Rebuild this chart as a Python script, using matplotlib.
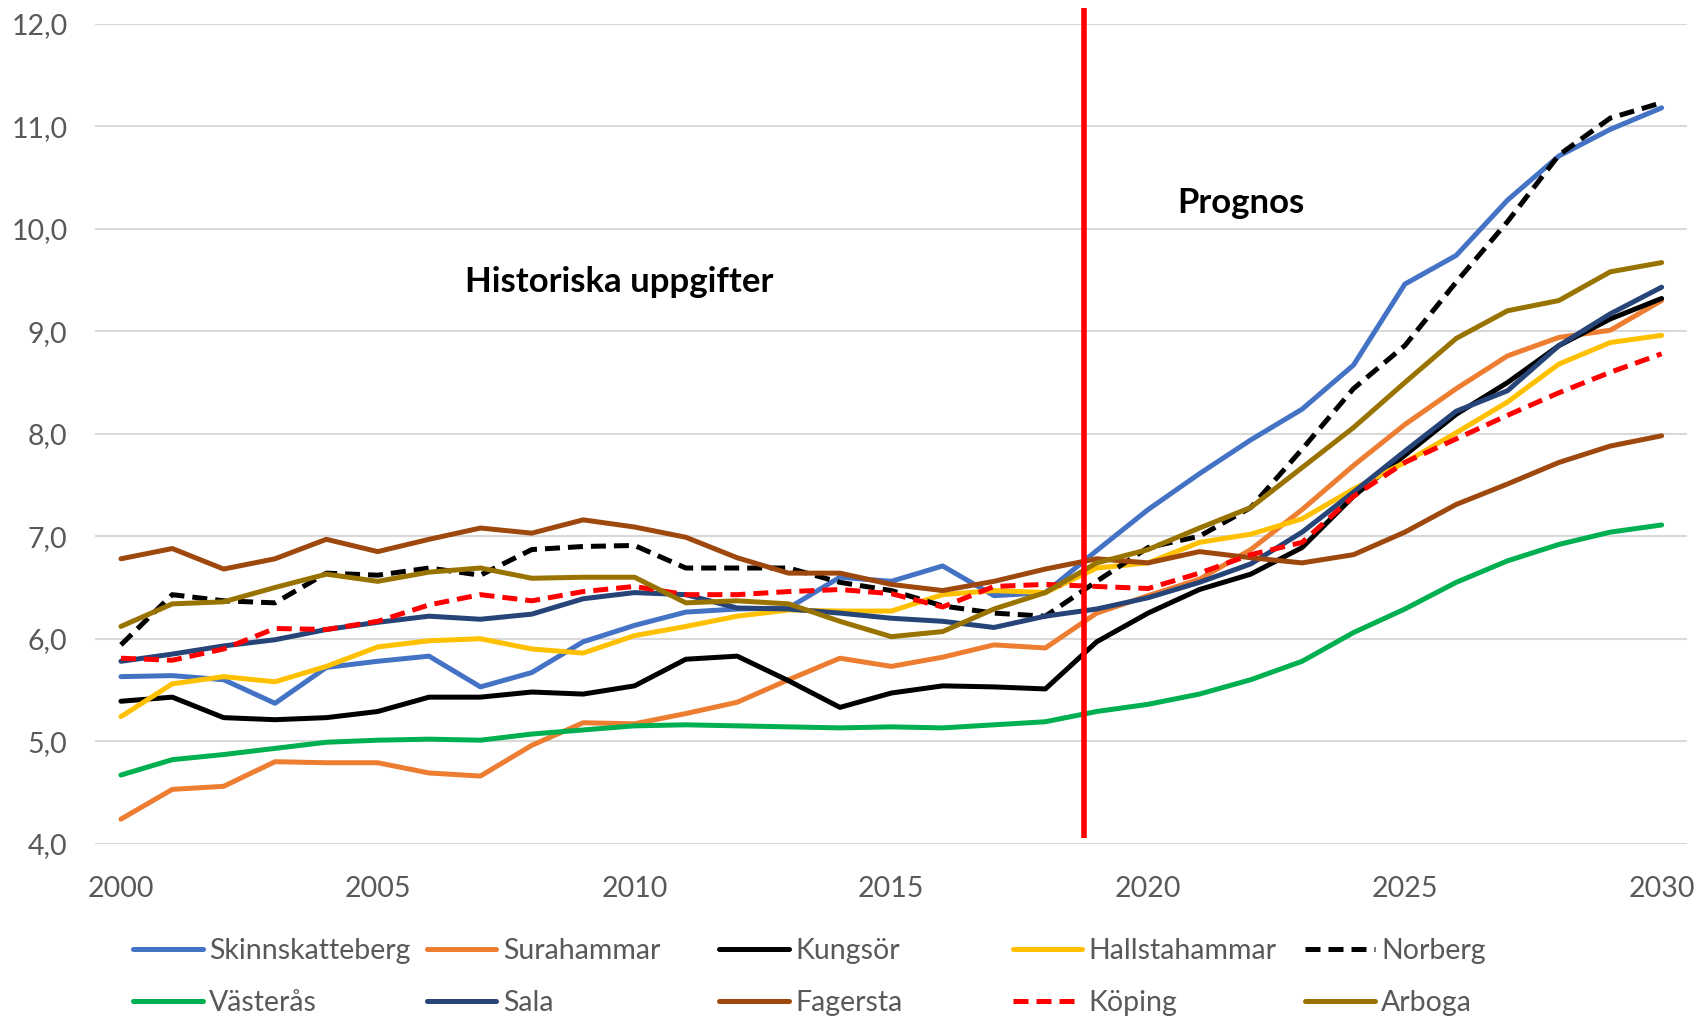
import matplotlib
matplotlib.use("Agg")
import matplotlib.pyplot as plt
from matplotlib.ticker import FixedLocator

plt.rcParams['font.family'] = ['Lato', 'DejaVu Sans']

years = list(range(2000, 2031))

skinnskatteberg = [5.63, 5.64, 5.60, 5.37, 5.72, 5.78, 5.83, 5.53, 5.67, 5.97, 6.13, 6.26, 6.29, 6.30, 6.60, 6.56, 6.71, 6.42, 6.45, 6.86,
                   7.26, 7.61, 7.94, 8.24, 8.67, 9.46, 9.74, 10.28, 10.71, 10.97, 11.18]
surahammar = [4.24, 4.53, 4.56, 4.80, 4.79, 4.79, 4.69, 4.66, 4.96, 5.18, 5.17, 5.27, 5.38, 5.60, 5.81, 5.73, 5.82, 5.94, 5.91, 6.25,
              6.42, 6.58, 6.87, 7.26, 7.69, 8.09, 8.44, 8.76, 8.94, 9.01, 9.30]
kungsor = [5.39, 5.43, 5.23, 5.21, 5.23, 5.29, 5.43, 5.43, 5.48, 5.46, 5.54, 5.80, 5.83, 5.59, 5.33, 5.47, 5.54, 5.53, 5.51, 5.97,
           6.25, 6.48, 6.63, 6.89, 7.39, 7.79, 8.19, 8.50, 8.86, 9.12, 9.32]
hallstahammar = [5.24, 5.56, 5.63, 5.58, 5.73, 5.92, 5.98, 6.00, 5.90, 5.86, 6.03, 6.12, 6.22, 6.28, 6.27, 6.27, 6.43, 6.47, 6.45, 6.69,
                 6.74, 6.94, 7.02, 7.17, 7.46, 7.72, 8.01, 8.31, 8.68, 8.89, 8.96]
norberg = [5.94, 6.43, 6.37, 6.35, 6.64, 6.62, 6.69, 6.62, 6.87, 6.90, 6.91, 6.69, 6.69, 6.69, 6.55, 6.47, 6.32, 6.25, 6.22, 6.56,
           6.89, 7.00, 7.28, 7.85, 8.44, 8.86, 9.48, 10.07, 10.72, 11.08, 11.23]
vasteras = [4.67, 4.82, 4.87, 4.93, 4.99, 5.01, 5.02, 5.01, 5.07, 5.11, 5.15, 5.16, 5.15, 5.14, 5.13, 5.14, 5.13, 5.16, 5.19, 5.29,
            5.36, 5.46, 5.60, 5.78, 6.06, 6.29, 6.55, 6.76, 6.92, 7.04, 7.11]
sala = [5.78, 5.85, 5.93, 5.99, 6.09, 6.16, 6.22, 6.19, 6.24, 6.39, 6.45, 6.43, 6.30, 6.29, 6.25, 6.20, 6.17, 6.11, 6.22, 6.29,
        6.40, 6.55, 6.73, 7.04, 7.43, 7.83, 8.22, 8.42, 8.86, 9.17, 9.43]
fagersta = [6.78, 6.88, 6.68, 6.78, 6.97, 6.85, 6.97, 7.08, 7.03, 7.16, 7.09, 6.99, 6.79, 6.64, 6.64, 6.53, 6.47, 6.56, 6.68, 6.78,
            6.74, 6.85, 6.79, 6.74, 6.82, 7.04, 7.31, 7.51, 7.72, 7.88, 7.98]
koping = [5.81, 5.79, 5.90, 6.10, 6.09, 6.17, 6.33, 6.43, 6.37, 6.46, 6.51, 6.43, 6.43, 6.46, 6.48, 6.44, 6.31, 6.51, 6.53, 6.51,
          6.49, 6.64, 6.82, 6.94, 7.39, 7.72, 7.95, 8.18, 8.40, 8.60, 8.78]
arboga = [6.12, 6.34, 6.36, 6.50, 6.63, 6.56, 6.65, 6.69, 6.59, 6.60, 6.60, 6.35, 6.37, 6.34, 6.17, 6.02, 6.07, 6.29, 6.45, 6.74,
          6.87, 7.08, 7.28, 7.67, 8.06, 8.50, 8.93, 9.20, 9.30, 9.58, 9.67]

series_names = ["Skinnskatteberg", "Surahammar", "Kungsör", "Hallstahammar", "Norberg",
                "Västerås", "Sala", "Fagersta", "Köping", "Arboga"]
series_values = [skinnskatteberg, surahammar, kungsor, hallstahammar, norberg,
                 vasteras, sala, fagersta, koping, arboga]
series_colors = ["#4472C4", "#ED7D31", "#000000", "#FFC000", "#000000",
                 "#00B050", "#264478", "#9E480E", "#FF0000", "#997300"]
series_dashed = [False, False, False, False, True, False, False, False, True, False]

y_ticks = [4, 5, 6, 7, 8, 9, 10, 11, 12]
y_tick_labels = ["4,0", "5,0", "6,0", "7,0", "8,0", "9,0", "10,0", "11,0", "12,0"]
x_ticks = [2000, 2005, 2010, 2015, 2020, 2025, 2030]
x_tick_labels = ["2000", "2005", "2010", "2015", "2020", "2025", "2030"]

prognos_year = 2018.75
prognos_line_y = [4.06, 12.15]

label_hist = "Historiska uppgifter"
label_hist_pos = (2009.7, 9.48)
label_prog = "Prognos"
label_prog_pos = (2021.8, 10.25)

text_gray = "#595959"

fig = plt.figure(figsize=(16.98, 10.17), dpi=100)
ax = fig.add_axes([0.0561, 0.1704, 0.9376, 0.8062])

lines = []
for name, vals, col, dashed in zip(series_names, series_values, series_colors, series_dashed):
    ln, = ax.plot(years, vals, color=col, lw=3.6, label=name,
                  solid_capstyle='round', solid_joinstyle='round',
                  dash_capstyle='butt')
    if dashed:
        ln.set_dashes((3.0, 1.6))
    lines.append(ln)

ax.plot([prognos_year, prognos_year], prognos_line_y, color="#FF0000", lw=4.0,
        clip_on=False, solid_capstyle='butt', zorder=5)

ax.text(*label_hist_pos, label_hist, fontsize=25, fontweight='bold', ha='center', va='center', color='black')
ax.text(*label_prog_pos, label_prog, fontsize=25, fontweight='bold', ha='center', va='center', color='black')

ax.set_xlim(1999.5, 2030.5)
ax.set_ylim(4, 12)
ax.yaxis.set_major_locator(FixedLocator(y_ticks))
ax.set_yticklabels(y_tick_labels)
ax.xaxis.set_major_locator(FixedLocator(x_ticks))
ax.set_xticklabels(x_tick_labels)
ax.tick_params(axis='both', length=0, labelsize=20.5, labelcolor=text_gray)
ax.tick_params(axis='y', pad=20)
ax.tick_params(axis='x', pad=23)
for s in ax.spines.values():
    s.set_visible(False)
ax.grid(axis='y', color="#D9D9D9", lw=1.5)
ax.set_axisbelow(True)

col_x = [0.0785, 0.2513, 0.4235, 0.5964, 0.7686]
row_y = [0.065, 0.014]
for i, ln in enumerate(lines):
    r, c = divmod(i, 5)
    fig.legend(handles=[ln], loc='center left', bbox_to_anchor=(col_x[c], row_y[r]),
               frameon=False, borderpad=0, borderaxespad=0, handlelength=2.45,
               handletextpad=0.22, fontsize=20.5, labelcolor=text_gray)

fig.savefig("out.png", dpi=100)
